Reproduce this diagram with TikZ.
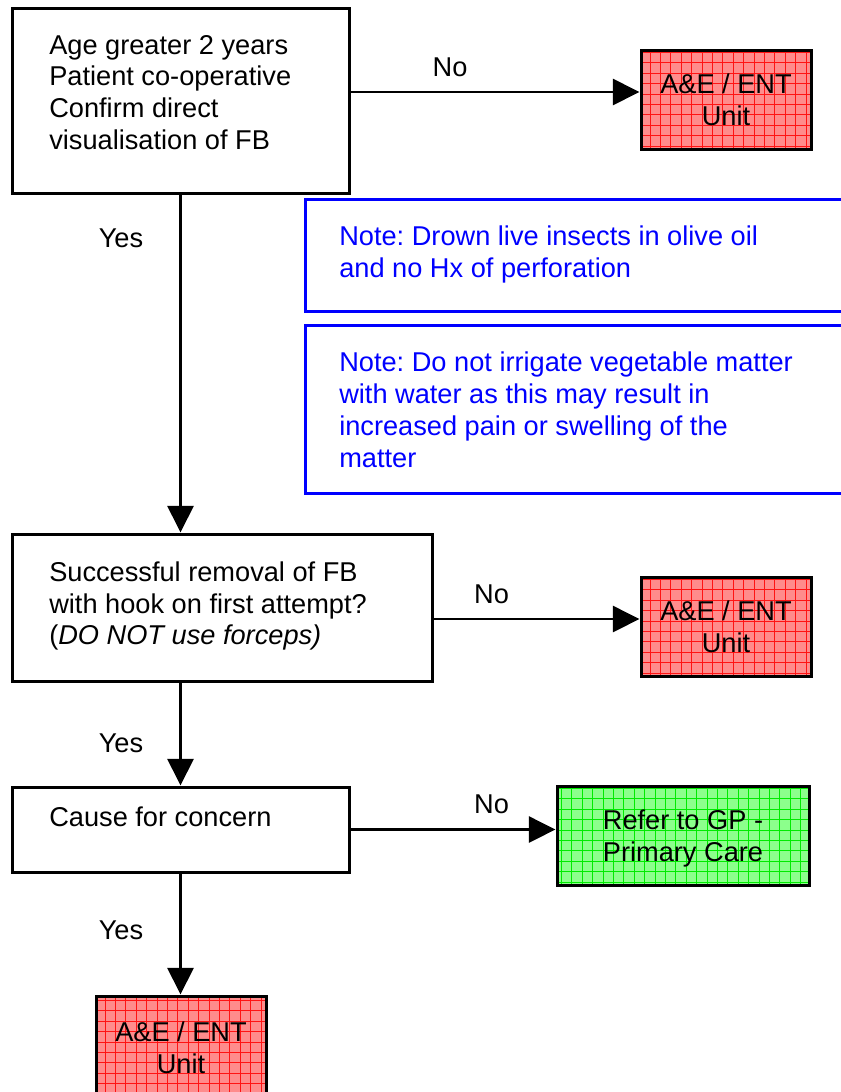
\documentclass[tikz,border=0pt]{standalone}
\usepackage{fontspec}
\setmainfont{Liberation Sans}
\usetikzlibrary{arrows.meta}
\definecolor{redfill}{RGB}{255,140,140}
\definecolor{redgrid}{RGB}{255,20,20}
\definecolor{greenfill}{RGB}{140,255,140}
\definecolor{greengrid}{RGB}{0,235,0}
\definecolor{noteblue}{RGB}{0,0,255}
\frenchspacing
\begin{document}
\begin{tikzpicture}[x=0.75pt,y=-0.75pt,
  every node/.style={font=\fontsize{20.4pt}{23.8pt}\selectfont, inner sep=0pt},
  box/.style={draw=black, line width=2.25pt, fill=white, rectangle},
  notebox/.style={draw=noteblue, line width=2.25pt, rectangle},
  txt/.style={anchor=north west, align=left},
  notetxt/.style={txt, text=noteblue},
  lbl/.style={anchor=base},
  redend/.style={box, fill=redfill, align=center, minimum width=127.5pt,
    path picture={\draw[redgrid, line width=0.5pt, step=7.8pt]
      (path picture bounding box.south west) grid (path picture bounding box.north east);}},
  greenend/.style={box, fill=greenfill, align=center, text depth=0pt,
    path picture={\draw[greengrid, line width=0.5pt, step=7.8pt]
      (path picture bounding box.south west) grid (path picture bounding box.north east);}},
  conn/.style={line width=2pt, -{Triangle[length=20pt,width=19.5pt]}}
]
\useasboundingbox (0,0) rectangle (841,1092);
\clip (0,0) rectangle (841,1092);
\fill[white] (0,0) rectangle (841,1092);

% main boxes
\node[box, minimum width=252.75pt, minimum height=138.75pt] (b1) at (180.5,100.5) {};
\node[box, minimum width=315pt, minimum height=110.25pt] (b2) at (222,607.5) {};
\node[box, minimum width=252.75pt, minimum height=63.75pt] (b3) at (180.5,829.5) {};

% note boxes
\node[notebox, minimum width=416.25pt, minimum height=84pt] (n1) at (582.5,255) {};
\node[notebox, minimum width=416.25pt, minimum height=126pt] (n2) at (582.5,409) {};

% end boxes
\node[redend, minimum height=74.25pt] (r1) at (726,99.5) {A\&E / ENT\\Unit};
\node[redend, minimum height=74.25pt] (r2) at (726,626.5) {A\&E / ENT\\Unit};
\node[redend, minimum height=77.25pt] (r3) at (181,1047.5) {A\&E / ENT\\Unit};
\node[greenend, minimum width=189pt, minimum height=74.25pt] (g) at (683,835.5) {Refer to GP -\\Primary Care};

% texts
\node[txt] (t1) at (49,35) {Age greater 2 years\\Patient co-operative\\Confirm direct\\visualisation of FB};
\node[txt] (t2) at (49,561.5) {Successful removal of FB\\with hook on first attempt?\\(\textit{DO NOT use forceps)}};
\node[txt] (t3) at (49,807) {Cause for concern};
\node[notetxt] (nt1) at (339,226) {Note: Drown live insects in olive oil\\and no Hx of perforation};
\node[notetxt] (nt2) at (339,352) {Note: Do not irrigate vegetable matter\\with water as this may result in\\increased pain or swelling of the\\matter};

% connectors
\coordinate (y1) at (0,92);
\coordinate (y2) at (0,619);
\draw[conn] (b1.east |- y1) -- (r1.west |- y1);
\draw[conn] (b2.east |- y2) -- (r2.west |- y2);
\draw[conn] (b3.east) -- (g.west |- b3.east);
\draw[conn] (b1.south) -- (b2.north -| b1.south);
\draw[conn] (b2.south -| b3.north) -- (b3.north);
\draw[conn] (b3.south) -- (r3.north -| b3.south);

% labels
\node[lbl] (no1) at (450,76) {No};
\node[lbl] (no2) at (491.5,603) {No};
\node[lbl] (no3) at (491.5,813) {No};
\node[lbl] (yes1) at (121,247) {Yes};
\node[lbl] (yes2) at (121,752) {Yes};
\node[lbl] (yes3) at (121,939) {Yes};
\end{tikzpicture}
\end{document}
